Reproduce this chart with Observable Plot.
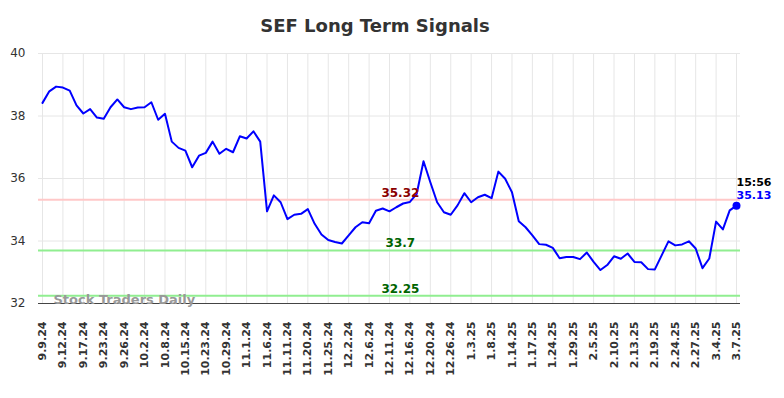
<!DOCTYPE html>
<html><head><meta charset="utf-8">
<script src="https://cdn.jsdelivr.net/npm/d3@7"></script>
<script src="https://cdn.jsdelivr.net/npm/@observablehq/plot@0.6"></script>
<style>
body{margin:0;background:#fff;}
#wrap{position:relative;width:784px;height:398px;font-family:"DejaVu Sans",sans-serif;}
#title{position:absolute;left:0;top:15px;width:750px;text-align:center;font-size:18px;font-weight:bold;color:#333;line-height:22px;}
#wrap svg{position:absolute;left:0;top:0;}
</style></head><body>
<div id="wrap"><div id="title">SEF Long Term Signals</div></div>
<script>
const tickLabels = ["9.9.24","9.12.24","9.17.24","9.23.24","9.26.24","10.2.24","10.8.24","10.15.24","10.23.24","10.29.24","11.1.24","11.6.24","11.11.24","11.20.24","11.25.24","12.2.24","12.6.24","12.11.24","12.16.24","12.20.24","12.26.24","1.3.25","1.8.25","1.14.25","1.17.25","1.24.25","1.29.25","2.5.25","2.10.25","2.13.25","2.19.25","2.24.25","2.27.25","3.4.25","3.7.25"];
const prices = [38.42,38.79,38.94,38.91,38.81,38.34,38.08,38.22,37.95,37.91,
38.28,38.53,38.28,38.22,38.27,38.28,38.44,37.88,38.07,37.18,
36.98,36.89,36.36,36.73,36.82,37.18,36.79,36.95,36.84,37.35,
37.28,37.51,37.18,34.95,35.46,35.24,34.70,34.84,34.87,35.02,
34.55,34.21,34.03,33.97,33.92,34.18,34.44,34.60,34.57,34.97,
35.04,34.95,35.08,35.20,35.25,35.51,36.55,35.88,35.24,34.92,
34.84,35.14,35.53,35.24,35.40,35.48,35.37,36.22,35.99,35.56,
34.63,34.44,34.18,33.90,33.88,33.78,33.45,33.49,33.49,33.42,
33.63,33.33,33.07,33.23,33.51,33.43,33.60,33.33,33.32,33.10,
33.09,33.54,33.99,33.86,33.89,33.99,33.76,33.13,33.44,34.62,
34.37,34.98,35.13];
const resistance = [35.32];
const supports = [33.7, 32.25];
const yTicks = [32, 34, 36, 38, 40];
const lastTime = "15:56";

const data = prices.map((v, i) => ({i, v}));
const last = data[data.length - 1];
const xTicks = d3.range(0, prices.length, 3);

const chart = Plot.plot({
  width: 784, height: 398,
  marginLeft: 38, marginRight: 44, marginTop: 53, marginBottom: 95,
  style: {fontFamily: "DejaVu Sans", background: "transparent", overflow: "visible"},
  x: {domain: [0, prices.length - 1], inset: 4},
  y: {domain: [32, 40]},
  marks: [
    Plot.gridX(xTicks, {stroke: "#e6e6e6", strokeOpacity: 1}),
    Plot.gridY(yTicks, {stroke: "#e6e6e6", strokeOpacity: 1}),
    Plot.ruleY(resistance, {stroke: "#ffc8c8", strokeWidth: 2}),
    Plot.ruleY(supports, {stroke: "#90ee90", strokeWidth: 2}),
    Plot.ruleY([32], {stroke: "#444", strokeWidth: 1}),
    Plot.axisY({ticks: yTicks, tickSize: 0, tickPadding: 13, fontSize: 12, label: null, fill: "#333"}),
    Plot.axisX({ticks: xTicks, tickFormat: i => tickLabels[i / 3], tickSize: 0, tickPadding: 18, tickRotate: -90, fontSize: 11, fontWeight: "bold", label: null, fill: "#333"}),
    Plot.text(["Stock Traders Daily"], {frameAnchor: "bottom-left", dx: 15, fontSize: 13, fontWeight: "bold", fill: "#999", textAnchor: "start"}),
    Plot.line(data, {x: "i", y: "v", stroke: "#0000ff", strokeWidth: 2}),
    Plot.text(resistance, {x: () => 52.6, y: d => d, text: d => String(d), textAnchor: "middle", lineAnchor: "bottom", dy: -3, fill: "#8b0000", fontWeight: "bold", fontSize: 12}),
    Plot.text(supports, {x: () => 52.6, y: d => d, text: d => String(d), textAnchor: "middle", lineAnchor: "bottom", dy: -3, fill: "#006400", fontWeight: "bold", fontSize: 12}),
    Plot.dot([last], {x: "i", y: "v", r: 4, fill: "#0000ff"}),
    Plot.text([last], {x: "i", y: "v", text: () => lastTime, textAnchor: "start", dy: -23, fill: "#000", fontWeight: "bold", fontSize: 11}),
    Plot.text([last], {x: "i", y: "v", text: d => d.v.toFixed(2), textAnchor: "start", dy: -10, fill: "#0000ff", fontWeight: "bold", fontSize: 11})
  ]
});
document.getElementById("wrap").appendChild(chart);
</script>
</body></html>
